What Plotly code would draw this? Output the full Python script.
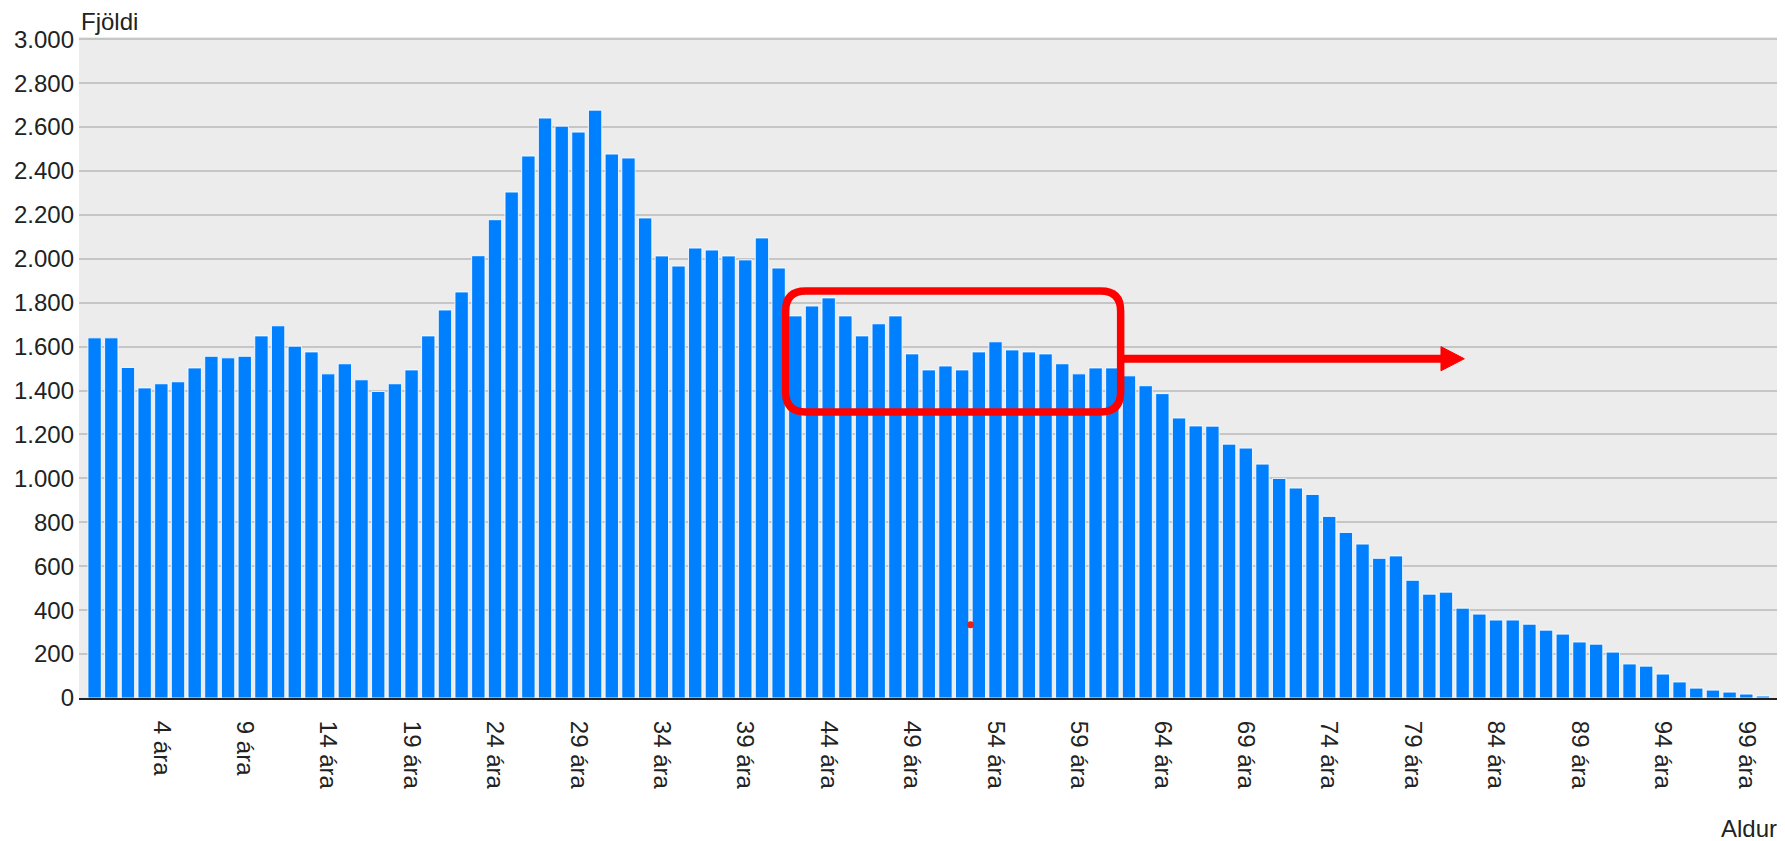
import plotly.graph_objects as go

# ---- data ----
ages = list(range(0, 101))
counts = [
    1640, 1640, 1505, 1412, 1431, 1440, 1503, 1556, 1549, 1556,
    1649, 1695, 1602, 1576, 1476, 1522, 1449, 1396, 1431, 1494,
    1649, 1767, 1849, 2014, 2178, 2304, 2468, 2641, 2604, 2577,
    2677, 2477, 2459, 2186, 2013, 1967, 2049, 2040, 2013, 1995,
    2095, 1958, 1740, 1785, 1822, 1740, 1649, 1704, 1740, 1567,
    1494, 1512, 1494, 1576, 1622, 1585, 1576, 1567, 1522, 1476,
    1503, 1503, 1467, 1422, 1386, 1275, 1239, 1238, 1156, 1138,
    1065, 1000, 956, 927, 827, 754, 701, 636, 647, 536,
    473, 482, 409, 382, 355, 355, 336, 309, 291, 255,
    245, 209, 155, 145, 109, 73, 45, 36, 27, 18,
    9,
]
tick_ages = list(range(4, 100, 5))
tick_labels = [f"{a} ára" for a in tick_ages]
y_ticks = list(range(0, 3001, 200))

# annotation geometry (data units)
box_x0, box_x1 = 41.42, 61.5
box_y0, box_y1 = 1302, 1853
rx, ry = 1.2, 91
arrow_y = 1545
arrow_base_x, arrow_tip_x = 80.7, 82.1
arrow_half_h = 55
dot_x, dot_y = 52.5, 334

FONT = "Liberation Sans, Arial, sans-serif"
RED = "#FF0000"
TXT = "#222"
FS = 24

fig = go.Figure()
fig.add_trace(go.Bar(
    x=ages, y=counts, width=0.8,
    marker=dict(color="#0080FF", line=dict(color="rgba(255,255,255,0.85)", width=1)),
    hoverinfo="x+y",
))
fig.add_trace(go.Scatter(
    x=[dot_x], y=[dot_y], mode="markers",
    marker=dict(color="#E8201C", size=7, symbol="circle"), hoverinfo="skip",
))

rr = (f"M {box_x0 + rx},{box_y1} L {box_x1 - rx},{box_y1} "
      f"Q {box_x1},{box_y1} {box_x1},{box_y1 - ry} "
      f"L {box_x1},{box_y0 + ry} Q {box_x1},{box_y0} {box_x1 - rx},{box_y0} "
      f"L {box_x0 + rx},{box_y0} Q {box_x0},{box_y0} {box_x0},{box_y0 + ry} "
      f"L {box_x0},{box_y1 - ry} Q {box_x0},{box_y1} {box_x0 + rx},{box_y1} Z")
fig.add_shape(type="path", path=rr, xref="x", yref="y",
              line=dict(color=RED, width=7.5), layer="above")
fig.add_shape(type="line", x0=box_x1, x1=arrow_base_x + 0.2, y0=arrow_y, y1=arrow_y,
              xref="x", yref="y", line=dict(color=RED, width=8), layer="above")
tri = (f"M {arrow_base_x},{arrow_y + arrow_half_h} L {arrow_tip_x},{arrow_y} "
       f"L {arrow_base_x},{arrow_y - arrow_half_h} Z")
fig.add_shape(type="path", path=tri, xref="x", yref="y",
              fillcolor=RED, line=dict(color=RED, width=1), layer="above")

fig.add_annotation(text="Fjöldi", xref="paper", yref="paper", x=0, y=1,
                   xanchor="left", yanchor="middle", yshift=16, xshift=1, showarrow=False,
                   borderpad=0,
                   font=dict(family=FONT, size=FS, color=TXT))
fig.add_annotation(text="Aldur", xref="paper", yref="paper", x=1, y=0,
                   xanchor="right", yanchor="middle", yshift=-130, xshift=-4, showarrow=False,
                   font=dict(family=FONT, size=FS, color=TXT))

# page body has an 8px margin: size/offset the figure so the plot area lands
# where the reference has it in the 1785x841 window
fig.update_layout(
    width=1777, height=833,
    margin=dict(l=71, r=2, t=29, b=143),
    paper_bgcolor="white", plot_bgcolor="#ECECEC",
    separators=",.",
    showlegend=False,
    font=dict(family=FONT, size=FS, color=TXT),
    xaxis=dict(
        range=[-0.935, 101.2], tickvals=tick_ages, ticktext=tick_labels,
        tickangle=90, showgrid=False, zeroline=False,
        showline=True, linecolor="#222", linewidth=2,
        ticks="", ticklabelstandoff=16,
        tickfont=dict(family=FONT, size=FS, color=TXT),
    ),
    yaxis=dict(
        range=[0, 3010], tickvals=y_ticks, tickformat=",d",
        showgrid=True, gridcolor="#C6C6C6", gridwidth=2,
        zeroline=False, ticks="", ticklabelstandoff=4,
        tickfont=dict(family=FONT, size=FS, color=TXT),
    ),
)

fig.write_html("out.html")
